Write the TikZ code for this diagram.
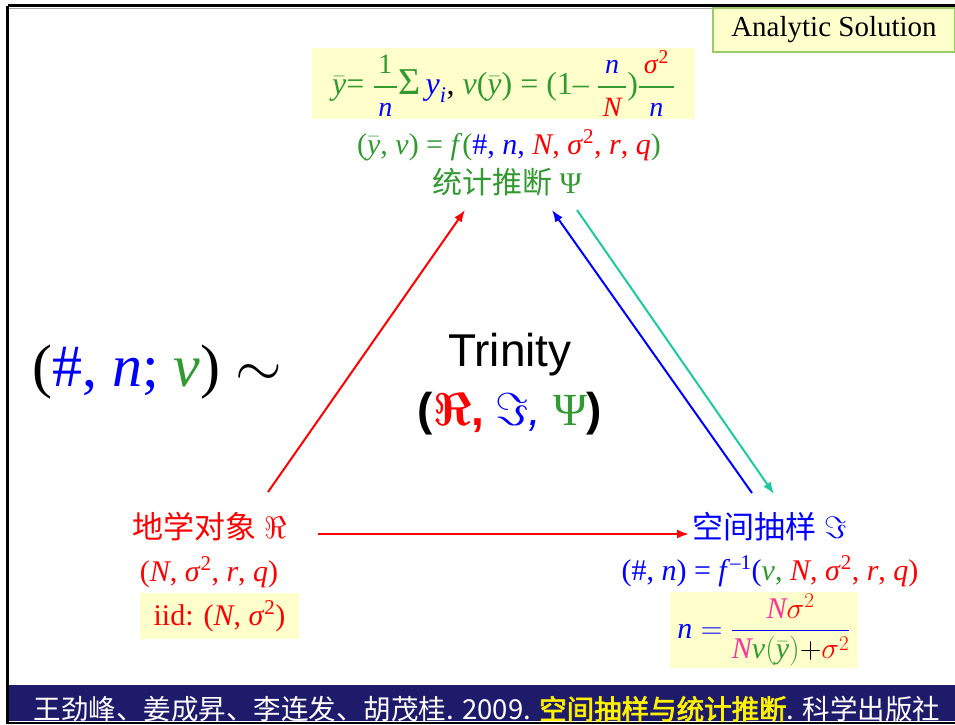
\RequirePackage{fix-cm}
\documentclass[tikz,border=0pt]{standalone}
\usepackage{amsmath}
\usepackage{fontspec}
\setmainfont{Liberation Serif}
\newfontfamily\cjk[AutoFakeBold=2.5]{Noto Sans CJK SC}
\newfontfamily\arial{Liberation Sans}
\usetikzlibrary{arrows.meta}
\definecolor{tr}{HTML}{FF0000}
\definecolor{tb}{HTML}{0000FF}
\definecolor{tg}{HTML}{339933}
\definecolor{tp}{HTML}{FF3399}
\definecolor{tteal}{HTML}{1FC9A0}
\definecolor{ybg}{HTML}{FFFFCC}
\definecolor{abd}{HTML}{99CC66}
\definecolor{navy}{HTML}{1F1B6B}
\newcommand\yb{\ensuremath{\bar{\text{\itshape y}}}}
\newcommand\sig{\textit{σ}}
\newcommand\sq{\textsuperscript{2}}
\newcommand\smallfr[2]{\ensuremath{\genfrac{}{}{2.2pt}{0}{\text{\fontsize{28}{28}\selectfont\,#1\,}}{\text{\fontsize{28}{28}\selectfont\,#2\,}}}}
\begin{document}
\begin{tikzpicture}[x=1pt,y=-1pt,
  ybox/.style={fill=ybg, inner sep=0pt},
  txt/.style={inner sep=0pt, font=\fontsize{30}{34}\selectfont},
  arr/.style={line width=2pt, -{Latex[length=12pt,width=9pt]}}]
\useasboundingbox (0,0) rectangle (955,724);
\fill[white] (0,0) rectangle (955,724);
% frame
\draw[black!35, line width=1.5pt] (9,8.5) -- (955,8.5);
\draw[line width=2.2pt] (7.5,5.5) -- (955,5.5);
\draw[line width=2.2pt] (7.5,5.5) -- (7.5,724);
\fill[navy] (8.6,685) rectangle (955,721);
\draw[line width=2pt] (8,722.6) -- (955,722.6);
% analytic solution
\node[draw=abd, line width=1.5pt, fill=ybg, minimum width=242pt, minimum height=44pt,
  inner sep=0pt, font=\fontsize{29}{32}\selectfont] (ana) at (834,30) {Analytic Solution};
% top formula box
\node[ybox, minimum width=383pt, minimum height=71pt, font=\fontsize{32}{34}\selectfont,
  text=tg] (topf) at (503.5,83.5)
 {\yb= \smallfr{1}{\textcolor{tb}{\itshape n}}{\fontsize{38}{38}\selectfont Σ}\,\textcolor{tb}{$\text{\itshape y}_{\text{\itshape i}}$}\textcolor{black}{,} \textit{v}(\yb) = (1– \smallfr{\textcolor{tb}{\itshape n}}{\textcolor{tr}{\itshape N}})\smallfr{\textcolor{tr}{\sig\sq}}{\textcolor{tb}{\itshape n}}};
\node[txt, text=tg] (inf) at (509,145)
 {(\yb, \textit{v}) = \textit{f}(\textcolor{tb}{\#, \textit{n},} \textcolor{tr}{\textit{N}, \sig\sq, \textit{r}, \textit{q}})};
\node[txt, text=tg] (psi) at (507,182) {{\cjk 统计推断} Ψ};
% trinity
\node[inner sep=0pt, font=\arial\fontsize{46}{50}\selectfont] (tri) at (510,355) {Trinity};
\node[inner sep=0pt, font=\fontsize{46}{50}\selectfont] (trt) at (510,414)
 {{\arial\bfseries(}\textcolor{tr}{$\boldsymbol{\Re}$\arial\bfseries,} \textcolor{tb}{$\Im$\arial\itshape,} \textcolor{tg}{Ψ}{\arial\bfseries)}};
% left tuple
\node[inner sep=0pt, font=\fontsize{60}{64}\selectfont] (tup) at (157,372)
 {(\textcolor{tb}{\#, \textit{n};} \textcolor{tg}{\textit{v}}) $\sim$};
% geo object
\node[txt, text=tr, font=\fontsize{31}{34}\selectfont] (geo) at (210,527) {{\cjk 地学对象} $\Re$};
\node[txt, text=tr] (geop) at (209,572) {(\textit{N}, \sig\sq, \textit{r}, \textit{q})};
\node[ybox, minimum width=159pt, minimum height=46pt, text=tr, font=\fontsize{30}{34}\selectfont]
 (iid) at (219.5,616) {iid: (\textit{N}, \sig\sq)};
% sampling
\node[txt, text=tb, font=\fontsize{31}{34}\selectfont] (samp) at (770,527) {{\cjk 空间抽样} $\Im$};
\node[txt, text=tb] (sampf) at (770,571)
 {(\#, \textit{n}) = \textit{f}\textsuperscript{–1}(\textcolor{tg}{\textit{v},} \textcolor{tr}{\textit{N}, \sig\sq, \textit{r}, \textit{q})}};
\node[ybox, minimum width=188pt, minimum height=76pt, text=tb, font=\fontsize{30}{34}\selectfont]
 (nbox) at (764,630)
 {$\text{\itshape n} = \dfrac{\color{tp}\text{\itshape N}\color{tr}\sigma^2}{\color{tp}\text{\itshape N}\color{tg}\text{\itshape v}(\bar{\text{\itshape y}})\color{black}{+}\color{tr}\sigma^2}$};
% citation
\node[inner sep=0pt, text=white, font=\cjk\fontsize{27.5}{30}\selectfont] (cite) at (487,709)
 {王劲峰、姜成昇、李连发、胡茂桂. 2009. \textcolor{yellow}{\bfseries 空间抽样与统计推断}. 科学出版社};
% arrows
\coordinate (a1s) at (268,492); \coordinate (a1e) at (465,210);
\coordinate (a2s) at (318,534); \coordinate (a2e) at (689,534);
\coordinate (a3s) at (752,493); \coordinate (a3e) at (552,210);
\coordinate (a4s) at (577,210); \coordinate (a4e) at (774,494);
\draw[arr, tr] (a1s) -- (a1e);
\draw[arr, tr] (a2s) -- (a2e);
\draw[arr, tb] (a3s) -- (a3e);
\draw[arr, tteal] (a4s) -- (a4e);
\end{tikzpicture}
\end{document}
